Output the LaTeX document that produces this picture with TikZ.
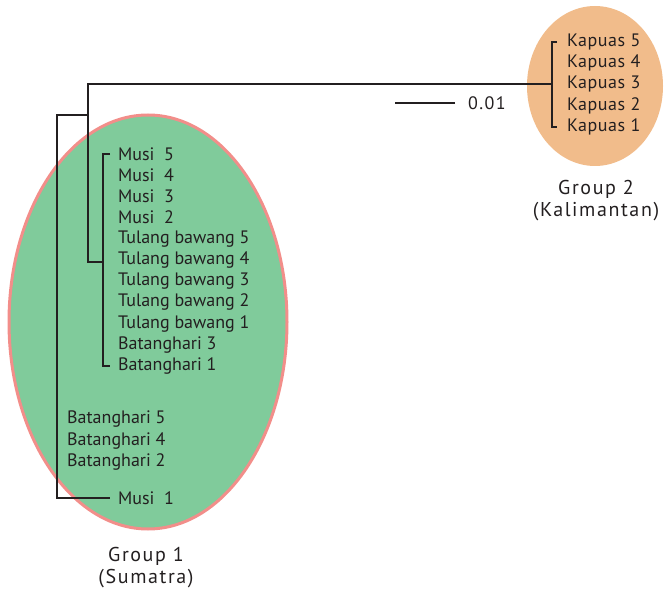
\documentclass[tikz,border=0pt]{standalone}
\usepackage{fontspec}
\setmainfont{PT Sans}
\definecolor{leafgreen}{HTML}{80CB9B}
\definecolor{ringpink}{HTML}{F28E8A}
\definecolor{sandorange}{HTML}{F1BC8B}
\definecolor{inkgray}{HTML}{231F20}

\begin{document}
\begin{tikzpicture}[x=1pt,y=-1pt,
	lbl/.style={anchor=west,inner sep=0pt,text=inkgray,font=\fontsize{18}{20}\selectfont},
	grp/.style={align=center,inner sep=0pt,text=inkgray,font=\fontsize{20}{22}\selectfont\addfontfeatures{LetterSpace=8}},
	branch/.style={line width=2.5pt,draw=inkgray}]
	
	\useasboundingbox (0,0) rectangle (664,593);
	
	\fill[sandorange] (595,86) ellipse [x radius=68,y radius=80];
	\filldraw[fill=leafgreen,draw=ringpink,line width=3pt] (148,322) ellipse [x radius=139,y radius=207];
	
	\foreach \name/\txt [count=\i] in {m5/Musi~~5,m4/Musi~~4,m3/Musi~~3,m2/Musi~~2,t5/Tulang bawang 5,t4/Tulang bawang 4,t3/Tulang bawang 3,t2/Tulang bawang 2,t1/Tulang bawang 1,b3/Batanghari 3,b1/Batanghari 1}
		\node[lbl] (\name) at (118,{154+21.2*(\i-1)}) {\txt};
	\foreach \k [count=\i] in {5,4,3,2,1}
		\node[lbl,font=\fontsize{18}{20}\selectfont\addfontfeatures{LetterSpace=3}] (k\k) at (567,{42+21.25*(\i-1)}) {Kapuas \k};
	\node[lbl] (b5) at (67,419) {Batanghari 5};
	\node[lbl] (b4) at (67,441) {Batanghari 4};
	\node[lbl] (b2) at (67,462) {Batanghari 2};
	\node[lbl] (m1) at (118,498) {Musi~~1};
	
	\coordinate (kap) at (552,84);
	\coordinate (inner) at (103,262);
	\coordinate (upper) at (88,115);
	\coordinate (root) at (57,498);
	
	\draw[branch] ([xshift=-10pt]k5.west) -| (kap) |- ([xshift=-10pt]k1.west);
	\draw[branch] ([xshift=-8pt]m5.west) -| (inner) |- ([xshift=-8pt]b1.west);
	\draw[branch] (inner) -| (upper) |- (kap);
	\draw[branch] (upper) -| (root) -- ([xshift=-8pt]m1.west);
	
	\node[lbl,font=\fontsize{18}{20}\selectfont\addfontfeatures{LetterSpace=8}] (scale) at (468,103) {0.01};
	\draw[line width=1.2pt,inkgray] ([xshift=-13pt]scale.west) -- ++(-60,0);
	
	\node[grp] (g2) at (596,201) {Group 2\\(Kalimantan)};
	\node[grp] (g1) at (146,568) {Group 1\\(Sumatra)};
\end{tikzpicture}
\end{document}
